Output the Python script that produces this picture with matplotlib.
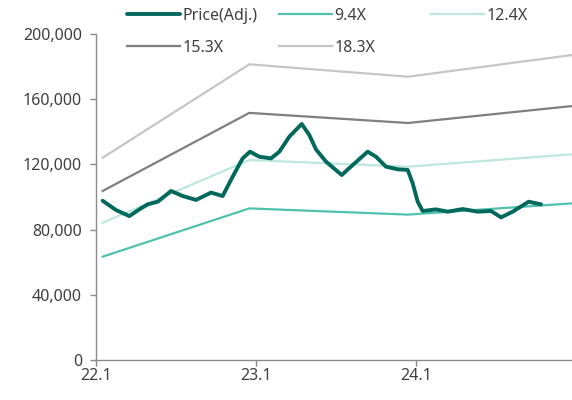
import matplotlib
matplotlib.use("Agg")
import matplotlib.pyplot as plt
from matplotlib.ticker import FuncFormatter

plt.rcParams['font.family'] = ['Noto Sans', 'DejaVu Sans']

# x positions are months elapsed since Jan 2022
band_x = [0.5, 11.5, 23.4, 35.7]
band_94 = [63400, 93000, 89200, 96100]
band_124 = [84200, 122700, 118600, 126200]
band_153 = [103700, 151600, 145400, 155800]
band_183 = [124100, 181400, 173800, 187100]

price_x = [0.5, 1.5, 2.5, 3.25, 3.88, 4.63, 5.63, 6.5, 7.5, 8.63, 9.5,
           10.25, 11.0, 11.55, 12.25, 13.13, 13.75, 14.5, 15.43, 16.0,
           16.5, 17.25, 18.43, 19.25, 20.38, 21.0, 21.75, 22.63, 23.38,
           23.75, 24.13, 24.5, 25.5, 26.38, 27.5, 28.63, 29.63, 30.38,
           31.25, 32.45, 33.38]
price = [97700, 92000, 88300, 92400, 95500, 97100, 103700, 100600, 98200,
         102700, 100600, 112500, 123700, 127800, 124700, 123700, 127800,
         137000, 144800, 138000, 129200, 121700, 113500, 119600, 127800,
         124700, 118600, 117000, 116600, 108400, 97100, 91400, 92400, 91000,
         92600, 91000, 91400, 87500, 91000, 97100, 95500]

x_ticks = [0, 12, 24]
x_labels = ["22.1", "23.1", "24.1"]
y_ticks = [0, 40000, 80000, 120000, 160000, 200000]

fig = plt.figure(figsize=(5.72, 4.0), dpi=100)
ax = fig.add_axes([96 / 572, 40 / 400, 476 / 572, 326 / 400])

l_price, = ax.plot(price_x, price, color="#00695c", lw=2.8, solid_joinstyle="round",
                   solid_capstyle="round", label="Price(Adj.)", zorder=5)
l94, = ax.plot(band_x, band_94, color="#4fc2ae", lw=1.6, label="9.4X")
l124, = ax.plot(band_x, band_124, color="#bfe6df", lw=1.6, label="12.4X")
l153, = ax.plot(band_x, band_153, color="#7f7f7f", lw=1.6, label="15.3X")
l183, = ax.plot(band_x, band_183, color="#c6c6c6", lw=1.6, label="18.3X")

ax.set_xlim(0, 35.7)
ax.set_ylim(0, 200000)
ax.set_xticks(x_ticks)
ax.set_xticklabels(x_labels)
ax.set_yticks(y_ticks)
ax.yaxis.set_major_formatter(FuncFormatter(lambda v, p: f"{int(v):,}"))

for s in ["top", "right"]:
    ax.spines[s].set_visible(False)
for s in ["left", "bottom"]:
    ax.spines[s].set_color("#8c8c8c")
    ax.spines[s].set_linewidth(1.0)
ax.tick_params(axis="both", colors="#8c8c8c", labelcolor="#404040",
               labelsize=11.5, length=4, width=1.0)
ax.tick_params(axis="y", pad=6)
ax.tick_params(axis="x", pad=2)

legend_kw = dict(loc="upper left", frameon=False, fontsize=11.5, borderpad=0,
                 handlelength=3.3, handletextpad=0.15, labelspacing=1.0,
                 borderaxespad=0)
top = 1 - 8 / 400
lg1 = fig.legend(handles=[l_price, l153], bbox_to_anchor=(127 / 572, top), **legend_kw)
lg2 = fig.legend(handles=[l94, l183], bbox_to_anchor=(279 / 572, top), **legend_kw)
lg3 = fig.legend(handles=[l124], bbox_to_anchor=(431 / 572, top), **legend_kw)
for lg in (lg1, lg2, lg3):
    for t in lg.get_texts():
        t.set_color("#404040")

fig.savefig("out.png", dpi=100)
